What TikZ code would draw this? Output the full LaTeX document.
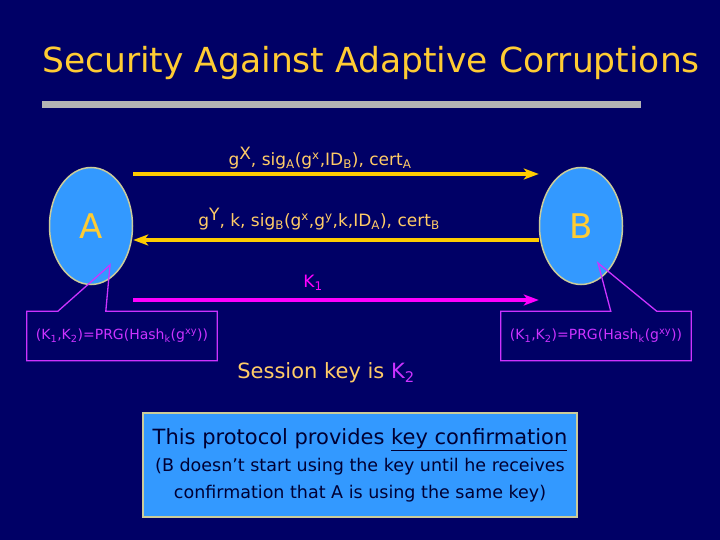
\documentclass[tikz,border=0pt]{standalone}
\usepackage{fontspec}
\setmainfont{DejaVu Sans}
\usepackage{xcolor}
\definecolor{navyBg}{HTML}{000066}
\definecolor{titleYellow}{HTML}{FFCC33}
\definecolor{labelYellow}{HTML}{FFCC66}
\definecolor{arrowYellow}{HTML}{FFCC00}
\definecolor{partyBlue}{HTML}{3399FF}
\definecolor{partyEdge}{HTML}{CCCC99}
\definecolor{keyMagenta}{HTML}{FF00FF}
\definecolor{calloutViolet}{HTML}{CC33FF}
\definecolor{barGray}{HTML}{B4B4B4}
\definecolor{noteText}{HTML}{000033}
\usepackage{tikz}
\usetikzlibrary{
    shapes.geometric,
    arrows.meta,
    positioning,
    calc
}
\tikzset{
    % Party nodes - light blue ovals
    party/.style={
        ellipse,
        draw=partyEdge,
        line width=1.5pt,
        fill=partyBlue,
        minimum width=83pt,
        minimum height=117pt,
        font=\fontsize{34}{36}\selectfont,
        text=titleYellow,
    },
    % Message arrows - thick yellow
    msg arrow/.style={
        -{Stealth[length=15pt, width=11pt, inset=4pt]},
        line width=4pt,
        draw=arrowYellow,
    },
    % Key arrow - same look in magenta
    key arrow/.style={
        msg arrow,
        draw=keyMagenta,
    },
    % Message labels
    msg label/.style={
        font=\fontsize{17}{19}\selectfont,
        text=labelYellow,
        inner sep=0pt,
    },
    % Key derivation callouts
    key box/.style={
        font=\fontsize{14}{16}\selectfont,
        text=calloutViolet,
        minimum width=190pt,
        minimum height=49pt,
        inner sep=0pt,
    },
    callout line/.style={
        draw=calloutViolet,
        line width=1.3pt,
    },
    % Bottom note box
    note/.style={
        draw=partyEdge,
        line width=2pt,
        fill=partyBlue,
        text=noteText,
        minimum width=434pt,
        minimum height=104pt,
        align=center,
        inner sep=0pt,
        font=\fontsize{17.5}{27}\selectfont,
    },
}

\begin{document}
\begin{tikzpicture}[x=1pt, y=-1pt]
    \fill[navyBg] (0,0) rectangle (720,540);
    \useasboundingbox (0,0) rectangle (720,540);

    \node (title) [font=\fontsize{34.5}{38}\selectfont, text=titleYellow] at (371,63) {Security Against Adaptive Corruptions};
    \fill[barGray] (42,101) rectangle (641,108);

    \node (A) [party] at (91,226) {A};
    \node (B) [party] at (581,226) {B};

    % messages
    \draw [msg arrow] ([yshift=52pt]A.east) -- ([yshift=52pt]B.west);
    \draw [msg arrow] ([yshift=-14pt]B.west) -- ([yshift=-14pt]A.east);
    \draw [key arrow] ([yshift=-74pt]A.east) -- ([yshift=-74pt]B.west);

    \node (msg1) [msg label] at (320,158) {g\raisebox{6pt}{X}, sig\textsubscript{A}(g\textsuperscript{x},ID\textsubscript{B}), cert\textsubscript{A}};
    \node (msg2) [msg label] at (319,219) {g\raisebox{6pt}{Y}, k, sig\textsubscript{B}(g\textsuperscript{x},g\textsuperscript{y},k,ID\textsubscript{A}), cert\textsubscript{B}};
    \node (k1) [msg label, text=keyMagenta] at (313,283) {K\textsubscript{1}};

    % callouts
    \node (prgA) [key box] at (122,336) {(K\textsubscript{1},K\textsubscript{2})=PRG(Hash\textsubscript{k}(g\textsuperscript{xy}))};
    \node (prgB) [key box] at (596,336) {(K\textsubscript{1},K\textsubscript{2})=PRG(Hash\textsubscript{k}(g\textsuperscript{xy}))};
    \coordinate (tipA) at (110,265);
    \coordinate (tipB) at (598,263);
    \draw [callout line] (prgA.north west) -- ([xshift=31pt]prgA.north west) -- (tipA) -- ([xshift=79pt]prgA.north west)
        -- (prgA.north east) -- (prgA.south east) -- (prgA.south west) -- cycle;
    \draw [callout line] (prgB.north west) -- ([xshift=110pt]prgB.north west) -- (tipB) -- ([xshift=156pt]prgB.north west)
        -- (prgB.north east) -- (prgB.south east) -- (prgB.south west) -- cycle;

    \node (session) [font=\fontsize{21}{23}\selectfont, text=labelYellow] at (326,373) {Session key is \textcolor{calloutViolet}{K\textsubscript{2}}};

    \node (confirm) [note] at (360,465) {{\fontsize{21}{25}\selectfont This protocol provides \underline{key confirmation}}\\
        (B doesn’t start using the key until he receives\\confirmation that A is using the same key)};
\end{tikzpicture}
\end{document}
